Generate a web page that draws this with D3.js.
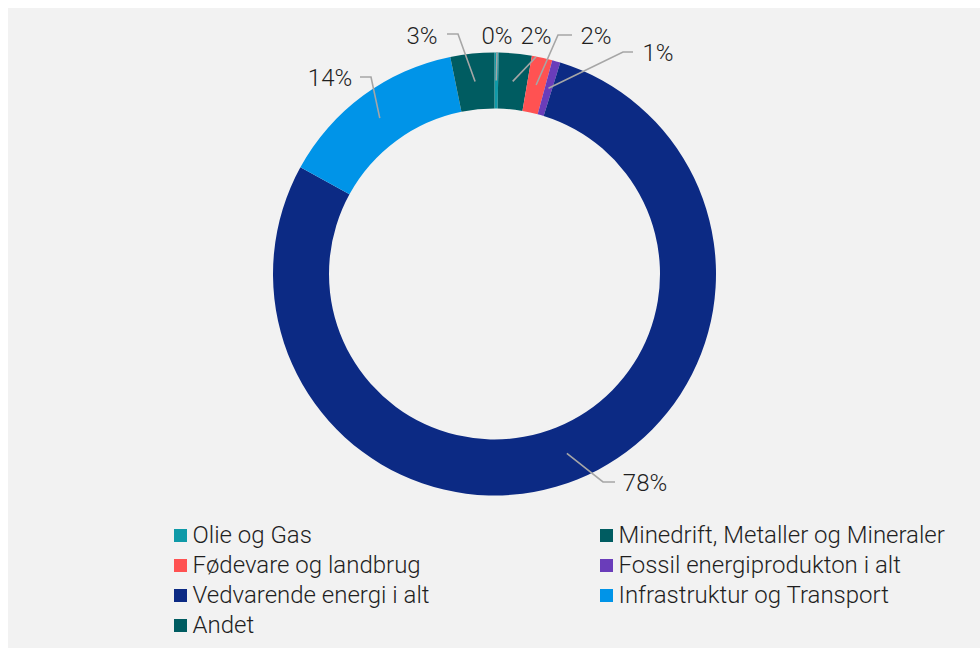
<!DOCTYPE html>
<html>
<head>
<meta charset="utf-8">
<script src="https://cdn.jsdelivr.net/npm/d3@7"></script>
<style>
html,body{margin:0;padding:0;background:#ffffff;}
svg{display:block;}
text{font-family:Roboto,"Noto Sans",sans-serif;font-weight:300;fill:#1f1f1f;}
</style>
</head>
<body>
<svg id="chart" width="980" height="648"></svg>
<script>
// ---- data ----
const categories = ["Olie og Gas","Minedrift, Metaller og Mineraler","Fødevare og landbrug","Fossil energiprodukton i alt","Vedvarende energi i alt","Infrastruktur og Transport","Andet"];
const values = [0.3, 2.4, 1.5, 0.6, 78.2, 13.8, 3.2];
const colors = ["#0f9aa8","#005c61","#ff5252","#6a3dba","#0c2a84","#0094e8","#005c61"];

// ---- layout ----
const W = 980, H = 648;
const cx = 494.5, cy = 274, rOuter = 221.5, rInner = 165.5;
// label placement (text centre and leader elbow) per category, in chart pixels
const labelLayout = [
  {tx:497, ty:35, path:[[497,52]]},
  {tx:536, ty:35, path:[[536,57]]},
  {tx:596, ty:35, path:[[572,35],[558,35]]},
  {tx:658, ty:52, path:[[633,52],[623,52]]},
  {tx:645, ty:482, path:[[615,482],[603,482]]},
  {tx:330, ty:77, path:[[360,77],[371,77]]},
  {tx:422, ty:35, path:[[447,34],[458,34]]}
];

const svg = d3.select("#chart");
svg.append("rect").attr("x",8).attr("y",8).attr("width",W-8).attr("height",H-8).attr("fill","#f2f2f2");

const data = categories.map((c,i)=>({name:c, value:values[i], color:colors[i], i}));
const pie = d3.pie().value(d=>d.value).sort(null).startAngle(0).endAngle(2*Math.PI);
const arcs = pie(data);
const arc = d3.arc().innerRadius(rInner).outerRadius(rOuter);

const g = svg.append("g").attr("transform",`translate(${cx},${cy})`);
g.selectAll("path.slice").data(arcs).enter().append("path")
  .attr("class","slice")
  .attr("d",arc)
  .attr("fill",d=>d.data.color);

// leader lines + labels
const fmt = v => Math.round(v) + "%";
arcs.forEach((a,i)=>{
  const L = labelLayout[i];
  const c = arc.centroid(a);
  const pts = L.path.map(p=>[p[0],p[1]]).concat([[cx+c[0], cy+c[1]]]);
  svg.append("path")
    .attr("d", d3.line()(pts))
    .attr("fill","none")
    .attr("stroke","#a6a6a6")
    .attr("stroke-width",1.6);
  svg.append("text")
    .attr("x",L.tx).attr("y",L.ty+8.5)
    .attr("text-anchor","middle")
    .attr("font-size",24)
    .text(fmt(a.data.value));
});

// legend
const legX = [174, 600], legY0 = 535.5, legDy = 30;
const leg = svg.append("g");
data.forEach((d,i)=>{
  const col = i % 2, row = Math.floor(i/2);
  const x = legX[col], y = legY0 + row*legDy;
  leg.append("rect").attr("x",x).attr("y",y-6.5).attr("width",13).attr("height",13).attr("fill",d.color);
  leg.append("text").attr("x",x+18.5).attr("y",y+7.5).attr("font-size",24).text(d.name);
});
</script>
</body>
</html>
